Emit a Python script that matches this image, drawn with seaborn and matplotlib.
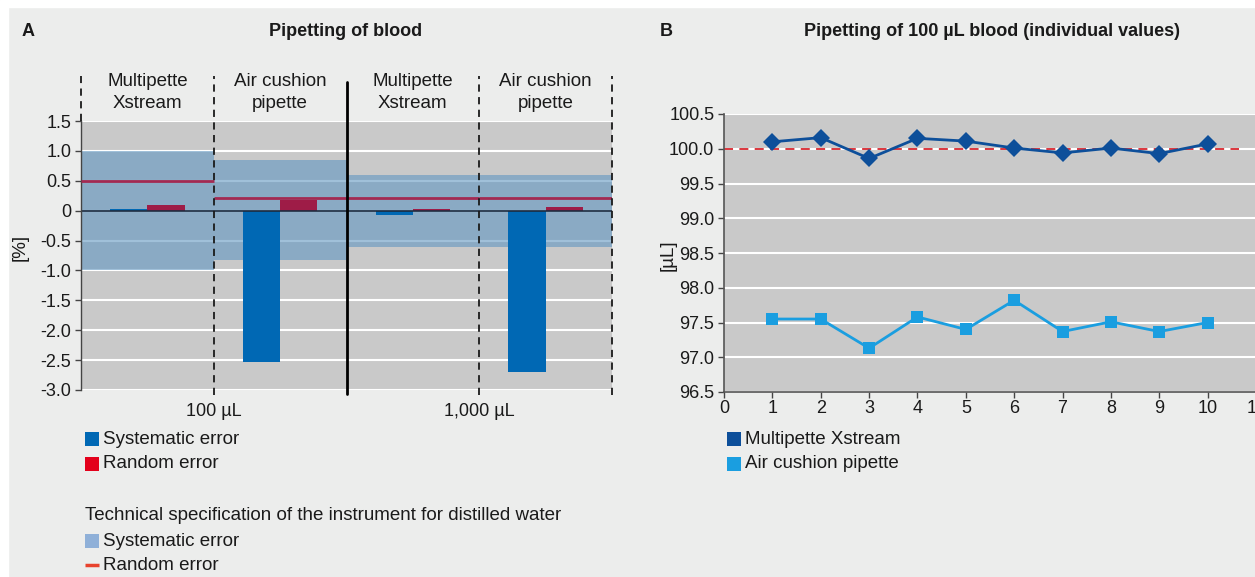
import numpy as np
import pandas as pd

import matplotlib
matplotlib.use('AGG')
import matplotlib.pyplot as plt
from matplotlib.patches import Rectangle
import seaborn as sns

sns.set_theme(style="white")
plt.rcParams['font.family'] = ['Liberation Sans', 'DejaVu Sans']

# ---------------- data: panel A (pipetting of blood, % error)
groups = ['100 Multipette', '100 Air cushion', '1000 Multipette', '1000 Air cushion']
header_labels = ['Multipette\nXstream', 'Air cushion\npipette', 'Multipette\nXstream', 'Air cushion\npipette']
volume_labels = ['100 µL', '1,000 µL']
systematic_error = [0.02, -2.53, -0.08, -2.70]
random_error = [0.10, 0.18, 0.03, 0.06]
# technical specification for distilled water
spec_sys_upper = [1.0, 0.84, 0.6, 0.6]
spec_sys_lower = [-1.0, -0.82, -0.6, -0.6]
spec_random = [0.5, 0.22, 0.22, 0.22]

# ---------------- data: panel B (100 µL blood, individual values)
runs = list(range(1, 11))
multipette_ul = [100.10, 100.16, 99.86, 100.15, 100.11, 100.01, 99.94, 100.01, 99.93, 100.07]
air_cushion_ul = [97.55, 97.55, 97.13, 97.58, 97.40, 97.82, 97.37, 97.51, 97.37, 97.50]
nominal_ul = 100.0

# colours
BG = '#ecedec'
PLOT_BG = '#c9c9c9'
TXT = '#1a1a1a'
SYS_BLUE = '#0068b4'
RAND_BAR = '#9e1c47'
RAND_LINE = '#a32a52'
SPEC_BAND = '#6196c1'
MULTI_BLUE = '#0d4f9a'
AIR_BLUE = '#1a9ee0'

W, H = 1255, 577
fig = plt.figure(figsize=(W / 100, H / 100), dpi=100, facecolor=BG)

# overlay in pixel coordinates for titles and legends
ov = fig.add_axes([0, 0, 1, 1], zorder=-1)
ov.set_xlim(0, W)
ov.set_ylim(H, 0)
ov.axis('off')
ov.add_patch(Rectangle((0, 0), 8, H, color='white'))
ov.add_patch(Rectangle((0, 0), W, 7, color='white'))

#--------------------------------------------------------------------
# panel A
#--------------------------------------------------------------------
ax1 = fig.add_axes([81 / W, 1 - 390 / H, 531 / W, 269 / H])
ax1.set_facecolor(PLOT_BG)

df_a = pd.DataFrame({
    'group': groups * 2,
    'error': ['Systematic error'] * 4 + ['Random error'] * 4,
    'value': systematic_error + random_error,
})
sns.barplot(data=df_a, x='group', y='value', hue='error', order=groups,
            hue_order=['Systematic error', 'Random error'],
            palette=[SYS_BLUE, RAND_BAR], width=0.56, saturation=1,
            errorbar=None, linewidth=0, legend=False, ax=ax1)
for p in ax1.patches:
    p.set_zorder(2)

xpos = np.arange(len(groups))
for i in xpos:
    ax1.fill_between([i - 0.5, i + 0.5], spec_sys_lower[i], spec_sys_upper[i],
                     color=SPEC_BAND, alpha=0.6, lw=0, zorder=1)
ax1.hlines(spec_random, xpos - 0.5, xpos + 0.5, colors=RAND_LINE, lw=2, zorder=3)
ax1.axhline(0, color='#1c2b3f', lw=1.2, zorder=2.5)

ax1.set_xlim(-0.5, 3.5)
ax1.set_ylim(-3.0, 1.5)
yt = np.arange(-3.0, 1.51, 0.5)
ax1.set_yticks(yt)
ax1.set_yticklabels(['0' if abs(v) < 1e-9 else f'{v:.1f}' for v in yt])
ax1.yaxis.grid(True, color='white', lw=1.5)
ax1.set_axisbelow(True)
ax1.set_xticks([0.5, 2.5])
ax1.set_xticklabels(volume_labels)
ax1.tick_params(axis='x', length=0, pad=9, labelsize=13, colors=TXT)
ax1.tick_params(axis='y', left=True, length=4, width=1, color='#444444',
                labelsize=13, labelcolor=TXT, pad=3)
ax1.set_xlabel('')
ax1.set_ylabel('')
for s in ['top', 'right', 'bottom']:
    ax1.spines[s].set_visible(False)
ax1.spines['left'].set_color('#444444')
ax1.spines['left'].set_linewidth(1)

# separators between instruments / volumes
tr = ax1.get_xaxis_transform()
for x in [0.5, 2.5, 3.5]:
    ax1.plot([x, x], [-0.02, 1.167], transform=tr, color=TXT, lw=1.3,
             ls=(0, (4, 3)), clip_on=False, zorder=4)
ax1.plot([-0.5, -0.5], [1.0, 1.167], transform=tr, color=TXT, lw=1.3,
         ls=(0, (4, 3)), clip_on=False, zorder=4)
ax1.plot([1.5, 1.5], [-0.015, 1.145], transform=tr, color='black', lw=2,
         clip_on=False, zorder=4)
for i, lab in enumerate(header_labels):
    ax1.text(i, 1.106, lab, transform=tr, ha='center', va='center',
             fontsize=13.5, color=TXT, linespacing=1.45)

#--------------------------------------------------------------------
# panel B
#--------------------------------------------------------------------
ax2 = fig.add_axes([724 / W, 1 - 392 / H, 532 / W, 278 / H])
ax2.set_facecolor(PLOT_BG)

df_b = pd.DataFrame({
    'run': runs * 2,
    'volume': multipette_ul + air_cushion_ul,
    'pipette': ['Multipette Xstream'] * len(runs) + ['Air cushion pipette'] * len(runs),
})
ax2.hlines(nominal_ul, 0, 10.65, colors='#d8262e', lw=1.3, ls=(0, (5, 3.5)), zorder=2)
sns.lineplot(data=df_b, x='run', y='volume', hue='pipette', style='pipette',
             hue_order=['Multipette Xstream', 'Air cushion pipette'],
             palette=[MULTI_BLUE, AIR_BLUE],
             markers={'Multipette Xstream': 'D', 'Air cushion pipette': 's'},
             dashes=False, lw=2, markersize=9, markeredgewidth=0,
             legend=False, ax=ax2, zorder=3)
for line in ax2.lines:
    if line.get_marker() == 'D':
        line.set_markersize(9.5)
    elif line.get_marker() == 's':
        line.set_markersize(8.5)

ax2.set_xlim(0, 11)
ax2.set_ylim(96.5, 100.5)
ax2.set_xticks(range(0, 12))
yt2 = np.arange(96.5, 100.51, 0.5)
ax2.set_yticks(yt2)
ax2.set_yticklabels([f'{v:.1f}' for v in yt2])
ax2.yaxis.grid(True, color='white', lw=1.5)
ax2.set_axisbelow(True)
ax2.set_xlabel('')
ax2.set_ylabel('')
ax2.tick_params(axis='both', length=4, width=1, color='#444444',
                labelsize=13, labelcolor=TXT, pad=3, left=True, bottom=True)
ax2.tick_params(axis='x', pad=2)
for s in ['top', 'right']:
    ax2.spines[s].set_visible(False)
for s in ['left', 'bottom']:
    ax2.spines[s].set_color('#555555')
    ax2.spines[s].set_linewidth(1.2)

#--------------------------------------------------------------------
# titles, axis labels, legends
#--------------------------------------------------------------------
ov.text(22, 32, 'A', fontsize=13, fontweight='bold', color=TXT, va='center', ha='left')
ov.text(346, 32, 'Pipetting of blood', fontsize=13, fontweight='bold', color=TXT,
        va='center', ha='center')
ov.text(660, 32, 'B', fontsize=13, fontweight='bold', color=TXT, va='center', ha='left')
ov.text(992, 32, 'Pipetting of 100 µL blood (individual values)', fontsize=13,
        fontweight='bold', color=TXT, va='center', ha='center')
ov.text(20, 247, '[%]', fontsize=13.5, color=TXT, rotation=90, va='center', ha='center')
ov.text(668, 255, '[µL]', fontsize=13.5, color=TXT, rotation=90, va='center', ha='center')


def legend_square(x, y, color, label):
    ov.add_patch(Rectangle((x, y - 7), 14, 14, color=color, lw=0))
    ov.text(x + 18, y, label, fontsize=13.5, color=TXT, va='center', ha='left')


legend_square(85, 439, SYS_BLUE, 'Systematic error')
legend_square(85, 464, '#e3001b', 'Random error')
ov.text(85, 516, 'Technical specification of the instrument for distilled water',
        fontsize=13.5, color=TXT, va='center', ha='left')
legend_square(85, 541, '#8fb0d8', 'Systematic error')
ov.plot([85, 99], [565, 565], color='#e8432d', lw=2.5, solid_capstyle='butt')
ov.text(103, 565, 'Random error', fontsize=13.5, color=TXT, va='center', ha='left')

legend_square(727, 439, MULTI_BLUE, 'Multipette Xstream')
legend_square(727, 464, AIR_BLUE, 'Air cushion pipette')

fig.savefig('out.png', dpi=100, facecolor=BG)
